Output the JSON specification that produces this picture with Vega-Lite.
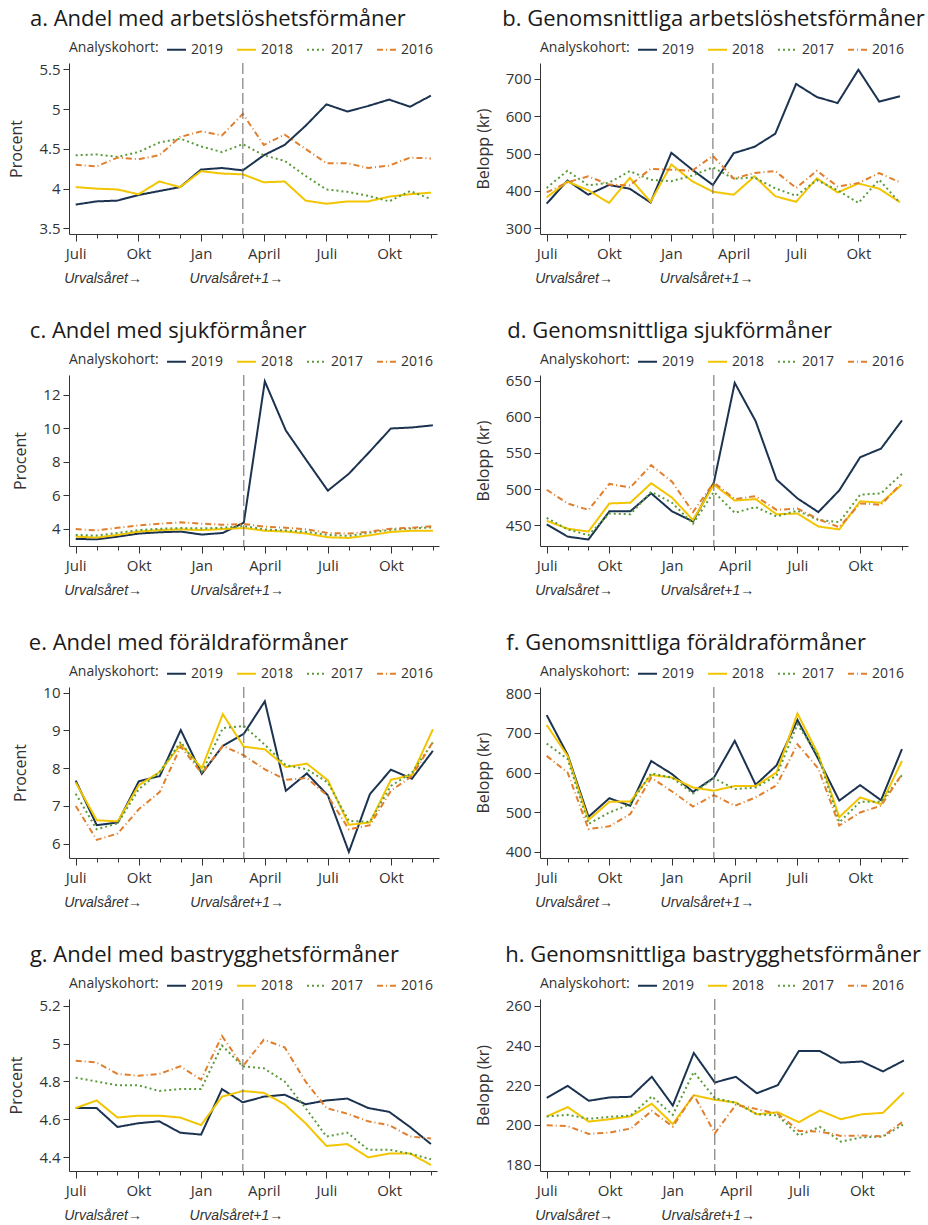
{
"$schema": "https://vega.github.io/schema/vega-lite/v6.json",
"background": "white",
"padding": {"left": 8, "top": 8, "right": 0, "bottom": 0},
"columns": 2,
"spacing": {"row": 35, "column": 36},
"align": "each",
"resolve": {"scale": {"color": "independent", "strokeDash": "independent"}, "legend": {"color": "independent", "strokeDash": "independent"}},
"config": {
 "font": "Open Sans",
 "view": {"stroke": null},
 "title": {"fontSize": 22, "fontWeight": "normal", "anchor": "start", "frame": "bounds", "color": "#1a1a1a", "offset": 8},
 "axis": {"grid": false, "domainColor": "#333", "tickColor": "#333", "labelColor": "#333", "titleColor": "#333", "titleFontWeight": "normal", "labelFontSize": 15, "titleFontSize": 16},
 "axisY": {"tickSize": 6, "labelPadding": 3, "titlePadding": 14},
 "legend": {"orient": "top", "direction": "horizontal", "titleOrient": "left", "titleFontSize": 14, "titleFontWeight": "normal", "titleColor": "#333", "labelColor": "#333", "labelFontSize": 14, "symbolType": "stroke", "symbolStrokeWidth": 2, "symbolSize": 361, "columnPadding": 9, "labelOffset": 4, "titlePadding": 7, "offset": 6}
},
"datasets": {"d": [
{"p":"a","k":"2019","m":0,"v":3.80},{"p":"a","k":"2019","m":1,"v":3.84},{"p":"a","k":"2019","m":2,"v":3.85},{"p":"a","k":"2019","m":3,"v":3.92},{"p":"a","k":"2019","m":4,"v":3.97},{"p":"a","k":"2019","m":5,"v":4.02},{"p":"a","k":"2019","m":6,"v":4.24},{"p":"a","k":"2019","m":7,"v":4.26},{"p":"a","k":"2019","m":8,"v":4.23},{"p":"a","k":"2019","m":9,"v":4.42},{"p":"a","k":"2019","m":10,"v":4.55},{"p":"a","k":"2019","m":11,"v":4.79},{"p":"a","k":"2019","m":12,"v":5.06},{"p":"a","k":"2019","m":13,"v":4.97},{"p":"a","k":"2019","m":14,"v":5.04},{"p":"a","k":"2019","m":15,"v":5.12},{"p":"a","k":"2019","m":16,"v":5.03},{"p":"a","k":"2019","m":17,"v":5.17},
{"p":"a","k":"2018","m":0,"v":4.02},{"p":"a","k":"2018","m":1,"v":4.00},{"p":"a","k":"2018","m":2,"v":3.99},{"p":"a","k":"2018","m":3,"v":3.93},{"p":"a","k":"2018","m":4,"v":4.09},{"p":"a","k":"2018","m":5,"v":4.02},{"p":"a","k":"2018","m":6,"v":4.22},{"p":"a","k":"2018","m":7,"v":4.19},{"p":"a","k":"2018","m":8,"v":4.18},{"p":"a","k":"2018","m":9,"v":4.08},{"p":"a","k":"2018","m":10,"v":4.09},{"p":"a","k":"2018","m":11,"v":3.85},{"p":"a","k":"2018","m":12,"v":3.81},{"p":"a","k":"2018","m":13,"v":3.84},{"p":"a","k":"2018","m":14,"v":3.84},{"p":"a","k":"2018","m":15,"v":3.90},{"p":"a","k":"2018","m":16,"v":3.93},{"p":"a","k":"2018","m":17,"v":3.95},
{"p":"a","k":"2017","m":0,"v":4.42},{"p":"a","k":"2017","m":1,"v":4.43},{"p":"a","k":"2017","m":2,"v":4.40},{"p":"a","k":"2017","m":3,"v":4.46},{"p":"a","k":"2017","m":4,"v":4.58},{"p":"a","k":"2017","m":5,"v":4.63},{"p":"a","k":"2017","m":6,"v":4.53},{"p":"a","k":"2017","m":7,"v":4.46},{"p":"a","k":"2017","m":8,"v":4.56},{"p":"a","k":"2017","m":9,"v":4.42},{"p":"a","k":"2017","m":10,"v":4.35},{"p":"a","k":"2017","m":11,"v":4.16},{"p":"a","k":"2017","m":12,"v":3.99},{"p":"a","k":"2017","m":13,"v":3.96},{"p":"a","k":"2017","m":14,"v":3.91},{"p":"a","k":"2017","m":15,"v":3.84},{"p":"a","k":"2017","m":16,"v":3.97},{"p":"a","k":"2017","m":17,"v":3.87},
{"p":"a","k":"2016","m":0,"v":4.30},{"p":"a","k":"2016","m":1,"v":4.28},{"p":"a","k":"2016","m":2,"v":4.39},{"p":"a","k":"2016","m":3,"v":4.37},{"p":"a","k":"2016","m":4,"v":4.42},{"p":"a","k":"2016","m":5,"v":4.65},{"p":"a","k":"2016","m":6,"v":4.72},{"p":"a","k":"2016","m":7,"v":4.67},{"p":"a","k":"2016","m":8,"v":4.94},{"p":"a","k":"2016","m":9,"v":4.55},{"p":"a","k":"2016","m":10,"v":4.68},{"p":"a","k":"2016","m":11,"v":4.50},{"p":"a","k":"2016","m":12,"v":4.32},{"p":"a","k":"2016","m":13,"v":4.32},{"p":"a","k":"2016","m":14,"v":4.26},{"p":"a","k":"2016","m":15,"v":4.29},{"p":"a","k":"2016","m":16,"v":4.39},{"p":"a","k":"2016","m":17,"v":4.38},
{"p":"b","k":"2019","m":0,"v":366},{"p":"b","k":"2019","m":1,"v":428},{"p":"b","k":"2019","m":2,"v":390},{"p":"b","k":"2019","m":3,"v":416},{"p":"b","k":"2019","m":4,"v":406},{"p":"b","k":"2019","m":5,"v":369},{"p":"b","k":"2019","m":6,"v":502},{"p":"b","k":"2019","m":7,"v":457},{"p":"b","k":"2019","m":8,"v":416},{"p":"b","k":"2019","m":9,"v":501},{"p":"b","k":"2019","m":10,"v":518},{"p":"b","k":"2019","m":11,"v":553},{"p":"b","k":"2019","m":12,"v":686},{"p":"b","k":"2019","m":13,"v":651},{"p":"b","k":"2019","m":14,"v":635},{"p":"b","k":"2019","m":15,"v":724},{"p":"b","k":"2019","m":16,"v":639},{"p":"b","k":"2019","m":17,"v":653},
{"p":"b","k":"2018","m":0,"v":383},{"p":"b","k":"2018","m":1,"v":425},{"p":"b","k":"2018","m":2,"v":402},{"p":"b","k":"2018","m":3,"v":368},{"p":"b","k":"2018","m":4,"v":435},{"p":"b","k":"2018","m":5,"v":371},{"p":"b","k":"2018","m":6,"v":471},{"p":"b","k":"2018","m":7,"v":426},{"p":"b","k":"2018","m":8,"v":398},{"p":"b","k":"2018","m":9,"v":390},{"p":"b","k":"2018","m":10,"v":439},{"p":"b","k":"2018","m":11,"v":386},{"p":"b","k":"2018","m":12,"v":371},{"p":"b","k":"2018","m":13,"v":434},{"p":"b","k":"2018","m":14,"v":396},{"p":"b","k":"2018","m":15,"v":420},{"p":"b","k":"2018","m":16,"v":406},{"p":"b","k":"2018","m":17,"v":370},
{"p":"b","k":"2017","m":0,"v":408},{"p":"b","k":"2017","m":1,"v":454},{"p":"b","k":"2017","m":2,"v":415},{"p":"b","k":"2017","m":3,"v":422},{"p":"b","k":"2017","m":4,"v":453},{"p":"b","k":"2017","m":5,"v":430},{"p":"b","k":"2017","m":6,"v":426},{"p":"b","k":"2017","m":7,"v":441},{"p":"b","k":"2017","m":8,"v":463},{"p":"b","k":"2017","m":9,"v":433},{"p":"b","k":"2017","m":10,"v":436},{"p":"b","k":"2017","m":11,"v":407},{"p":"b","k":"2017","m":12,"v":387},{"p":"b","k":"2017","m":13,"v":429},{"p":"b","k":"2017","m":14,"v":402},{"p":"b","k":"2017","m":15,"v":368},{"p":"b","k":"2017","m":16,"v":430},{"p":"b","k":"2017","m":17,"v":368},
{"p":"b","k":"2016","m":0,"v":396},{"p":"b","k":"2016","m":1,"v":423},{"p":"b","k":"2016","m":2,"v":439},{"p":"b","k":"2016","m":3,"v":417},{"p":"b","k":"2016","m":4,"v":415},{"p":"b","k":"2016","m":5,"v":459},{"p":"b","k":"2016","m":6,"v":457},{"p":"b","k":"2016","m":7,"v":454},{"p":"b","k":"2016","m":8,"v":494},{"p":"b","k":"2016","m":9,"v":433},{"p":"b","k":"2016","m":10,"v":448},{"p":"b","k":"2016","m":11,"v":453},{"p":"b","k":"2016","m":12,"v":408},{"p":"b","k":"2016","m":13,"v":454},{"p":"b","k":"2016","m":14,"v":412},{"p":"b","k":"2016","m":15,"v":421},{"p":"b","k":"2016","m":16,"v":448},{"p":"b","k":"2016","m":17,"v":423},
{"p":"c","k":"2019","m":0,"v":3.39},{"p":"c","k":"2019","m":1,"v":3.37},{"p":"c","k":"2019","m":2,"v":3.53},{"p":"c","k":"2019","m":3,"v":3.71},{"p":"c","k":"2019","m":4,"v":3.79},{"p":"c","k":"2019","m":5,"v":3.83},{"p":"c","k":"2019","m":6,"v":3.65},{"p":"c","k":"2019","m":7,"v":3.75},{"p":"c","k":"2019","m":8,"v":4.36},{"p":"c","k":"2019","m":9,"v":12.79},{"p":"c","k":"2019","m":10,"v":9.86},{"p":"c","k":"2019","m":11,"v":8.05},{"p":"c","k":"2019","m":12,"v":6.27},{"p":"c","k":"2019","m":13,"v":7.28},{"p":"c","k":"2019","m":14,"v":8.61},{"p":"c","k":"2019","m":15,"v":9.98},{"p":"c","k":"2019","m":16,"v":10.04},{"p":"c","k":"2019","m":17,"v":10.17},
{"p":"c","k":"2018","m":0,"v":3.53},{"p":"c","k":"2018","m":1,"v":3.47},{"p":"c","k":"2018","m":2,"v":3.63},{"p":"c","k":"2018","m":3,"v":3.83},{"p":"c","k":"2018","m":4,"v":3.92},{"p":"c","k":"2018","m":5,"v":3.96},{"p":"c","k":"2018","m":6,"v":3.92},{"p":"c","k":"2018","m":7,"v":3.98},{"p":"c","k":"2018","m":8,"v":4.04},{"p":"c","k":"2018","m":9,"v":3.88},{"p":"c","k":"2018","m":10,"v":3.83},{"p":"c","k":"2018","m":11,"v":3.71},{"p":"c","k":"2018","m":12,"v":3.49},{"p":"c","k":"2018","m":13,"v":3.45},{"p":"c","k":"2018","m":14,"v":3.61},{"p":"c","k":"2018","m":15,"v":3.81},{"p":"c","k":"2018","m":16,"v":3.88},{"p":"c","k":"2018","m":17,"v":3.88},
{"p":"c","k":"2017","m":0,"v":3.63},{"p":"c","k":"2017","m":1,"v":3.59},{"p":"c","k":"2017","m":2,"v":3.75},{"p":"c","k":"2017","m":3,"v":3.92},{"p":"c","k":"2017","m":4,"v":4.00},{"p":"c","k":"2017","m":5,"v":4.04},{"p":"c","k":"2017","m":6,"v":4.02},{"p":"c","k":"2017","m":7,"v":4.06},{"p":"c","k":"2017","m":8,"v":4.16},{"p":"c","k":"2017","m":9,"v":3.96},{"p":"c","k":"2017","m":10,"v":3.90},{"p":"c","k":"2017","m":11,"v":3.81},{"p":"c","k":"2017","m":12,"v":3.63},{"p":"c","k":"2017","m":13,"v":3.57},{"p":"c","k":"2017","m":14,"v":3.77},{"p":"c","k":"2017","m":15,"v":3.94},{"p":"c","k":"2017","m":16,"v":4.02},{"p":"c","k":"2017","m":17,"v":4.08},
{"p":"c","k":"2016","m":0,"v":3.98},{"p":"c","k":"2016","m":1,"v":3.90},{"p":"c","k":"2016","m":2,"v":4.06},{"p":"c","k":"2016","m":3,"v":4.20},{"p":"c","k":"2016","m":4,"v":4.30},{"p":"c","k":"2016","m":5,"v":4.38},{"p":"c","k":"2016","m":6,"v":4.30},{"p":"c","k":"2016","m":7,"v":4.24},{"p":"c","k":"2016","m":8,"v":4.28},{"p":"c","k":"2016","m":9,"v":4.12},{"p":"c","k":"2016","m":10,"v":4.06},{"p":"c","k":"2016","m":11,"v":3.96},{"p":"c","k":"2016","m":12,"v":3.75},{"p":"c","k":"2016","m":13,"v":3.71},{"p":"c","k":"2016","m":14,"v":3.83},{"p":"c","k":"2016","m":15,"v":4.00},{"p":"c","k":"2016","m":16,"v":4.06},{"p":"c","k":"2016","m":17,"v":4.16},
{"p":"d","k":"2019","m":0,"v":451},{"p":"d","k":"2019","m":1,"v":434},{"p":"d","k":"2019","m":2,"v":430},{"p":"d","k":"2019","m":3,"v":469},{"p":"d","k":"2019","m":4,"v":469},{"p":"d","k":"2019","m":5,"v":494},{"p":"d","k":"2019","m":6,"v":469},{"p":"d","k":"2019","m":7,"v":455},{"p":"d","k":"2019","m":8,"v":509},{"p":"d","k":"2019","m":9,"v":647},{"p":"d","k":"2019","m":10,"v":594},{"p":"d","k":"2019","m":11,"v":513},{"p":"d","k":"2019","m":12,"v":487},{"p":"d","k":"2019","m":13,"v":468},{"p":"d","k":"2019","m":14,"v":498},{"p":"d","k":"2019","m":15,"v":544},{"p":"d","k":"2019","m":16,"v":556},{"p":"d","k":"2019","m":17,"v":595},
{"p":"d","k":"2018","m":0,"v":456},{"p":"d","k":"2018","m":1,"v":445},{"p":"d","k":"2018","m":2,"v":441},{"p":"d","k":"2018","m":3,"v":480},{"p":"d","k":"2018","m":4,"v":481},{"p":"d","k":"2018","m":5,"v":508},{"p":"d","k":"2018","m":6,"v":488},{"p":"d","k":"2018","m":7,"v":457},{"p":"d","k":"2018","m":8,"v":506},{"p":"d","k":"2018","m":9,"v":484},{"p":"d","k":"2018","m":10,"v":486},{"p":"d","k":"2018","m":11,"v":465},{"p":"d","k":"2018","m":12,"v":466},{"p":"d","k":"2018","m":13,"v":448},{"p":"d","k":"2018","m":14,"v":444},{"p":"d","k":"2018","m":15,"v":483},{"p":"d","k":"2018","m":16,"v":481},{"p":"d","k":"2018","m":17,"v":506},
{"p":"d","k":"2017","m":0,"v":460},{"p":"d","k":"2017","m":1,"v":444},{"p":"d","k":"2017","m":2,"v":436},{"p":"d","k":"2017","m":3,"v":466},{"p":"d","k":"2017","m":4,"v":465},{"p":"d","k":"2017","m":5,"v":496},{"p":"d","k":"2017","m":6,"v":481},{"p":"d","k":"2017","m":7,"v":452},{"p":"d","k":"2017","m":8,"v":496},{"p":"d","k":"2017","m":9,"v":467},{"p":"d","k":"2017","m":10,"v":475},{"p":"d","k":"2017","m":11,"v":462},{"p":"d","k":"2017","m":12,"v":470},{"p":"d","k":"2017","m":13,"v":457},{"p":"d","k":"2017","m":14,"v":454},{"p":"d","k":"2017","m":15,"v":492},{"p":"d","k":"2017","m":16,"v":494},{"p":"d","k":"2017","m":17,"v":521},
{"p":"d","k":"2016","m":0,"v":499},{"p":"d","k":"2016","m":1,"v":480},{"p":"d","k":"2016","m":2,"v":471},{"p":"d","k":"2016","m":3,"v":507},{"p":"d","k":"2016","m":4,"v":502},{"p":"d","k":"2016","m":5,"v":533},{"p":"d","k":"2016","m":6,"v":510},{"p":"d","k":"2016","m":7,"v":468},{"p":"d","k":"2016","m":8,"v":509},{"p":"d","k":"2016","m":9,"v":486},{"p":"d","k":"2016","m":10,"v":490},{"p":"d","k":"2016","m":11,"v":471},{"p":"d","k":"2016","m":12,"v":473},{"p":"d","k":"2016","m":13,"v":458},{"p":"d","k":"2016","m":14,"v":447},{"p":"d","k":"2016","m":15,"v":480},{"p":"d","k":"2016","m":16,"v":478},{"p":"d","k":"2016","m":17,"v":509},
{"p":"e","k":"2019","m":0,"v":7.67},{"p":"e","k":"2019","m":1,"v":6.49},{"p":"e","k":"2019","m":2,"v":6.56},{"p":"e","k":"2019","m":3,"v":7.65},{"p":"e","k":"2019","m":4,"v":7.79},{"p":"e","k":"2019","m":5,"v":9.01},{"p":"e","k":"2019","m":6,"v":7.85},{"p":"e","k":"2019","m":7,"v":8.59},{"p":"e","k":"2019","m":8,"v":8.91},{"p":"e","k":"2019","m":9,"v":9.77},{"p":"e","k":"2019","m":10,"v":7.40},{"p":"e","k":"2019","m":11,"v":7.86},{"p":"e","k":"2019","m":12,"v":7.28},{"p":"e","k":"2019","m":13,"v":5.78},{"p":"e","k":"2019","m":14,"v":7.31},{"p":"e","k":"2019","m":15,"v":7.96},{"p":"e","k":"2019","m":16,"v":7.72},{"p":"e","k":"2019","m":17,"v":8.46},
{"p":"e","k":"2018","m":0,"v":7.62},{"p":"e","k":"2018","m":1,"v":6.62},{"p":"e","k":"2018","m":2,"v":6.59},{"p":"e","k":"2018","m":3,"v":7.55},{"p":"e","k":"2018","m":4,"v":7.90},{"p":"e","k":"2018","m":5,"v":8.63},{"p":"e","k":"2018","m":6,"v":8.00},{"p":"e","k":"2018","m":7,"v":9.43},{"p":"e","k":"2018","m":8,"v":8.57},{"p":"e","k":"2018","m":9,"v":8.50},{"p":"e","k":"2018","m":10,"v":8.03},{"p":"e","k":"2018","m":11,"v":8.12},{"p":"e","k":"2018","m":12,"v":7.68},{"p":"e","k":"2018","m":13,"v":6.50},{"p":"e","k":"2018","m":14,"v":6.56},{"p":"e","k":"2018","m":15,"v":7.69},{"p":"e","k":"2018","m":16,"v":7.82},{"p":"e","k":"2018","m":17,"v":9.03},
{"p":"e","k":"2017","m":0,"v":7.32},{"p":"e","k":"2017","m":1,"v":6.38},{"p":"e","k":"2017","m":2,"v":6.54},{"p":"e","k":"2017","m":3,"v":7.44},{"p":"e","k":"2017","m":4,"v":7.90},{"p":"e","k":"2017","m":5,"v":8.70},{"p":"e","k":"2017","m":6,"v":7.88},{"p":"e","k":"2017","m":7,"v":9.06},{"p":"e","k":"2017","m":8,"v":9.12},{"p":"e","k":"2017","m":9,"v":8.62},{"p":"e","k":"2017","m":10,"v":8.08},{"p":"e","k":"2017","m":11,"v":7.97},{"p":"e","k":"2017","m":12,"v":7.62},{"p":"e","k":"2017","m":13,"v":6.60},{"p":"e","k":"2017","m":14,"v":6.58},{"p":"e","k":"2017","m":15,"v":7.53},{"p":"e","k":"2017","m":16,"v":7.88},{"p":"e","k":"2017","m":17,"v":8.68},
{"p":"e","k":"2016","m":0,"v":7.00},{"p":"e","k":"2016","m":1,"v":6.10},{"p":"e","k":"2016","m":2,"v":6.27},{"p":"e","k":"2016","m":3,"v":6.91},{"p":"e","k":"2016","m":4,"v":7.37},{"p":"e","k":"2016","m":5,"v":8.57},{"p":"e","k":"2016","m":6,"v":7.86},{"p":"e","k":"2016","m":7,"v":8.59},{"p":"e","k":"2016","m":8,"v":8.34},{"p":"e","k":"2016","m":9,"v":7.97},{"p":"e","k":"2016","m":10,"v":7.69},{"p":"e","k":"2016","m":11,"v":7.74},{"p":"e","k":"2016","m":12,"v":7.26},{"p":"e","k":"2016","m":13,"v":6.38},{"p":"e","k":"2016","m":14,"v":6.49},{"p":"e","k":"2016","m":15,"v":7.40},{"p":"e","k":"2016","m":16,"v":7.79},{"p":"e","k":"2016","m":17,"v":8.70},
{"p":"f","k":"2019","m":0,"v":745},{"p":"f","k":"2019","m":1,"v":645},{"p":"f","k":"2019","m":2,"v":488},{"p":"f","k":"2019","m":3,"v":535},{"p":"f","k":"2019","m":4,"v":516},{"p":"f","k":"2019","m":5,"v":629},{"p":"f","k":"2019","m":6,"v":596},{"p":"f","k":"2019","m":7,"v":551},{"p":"f","k":"2019","m":8,"v":587},{"p":"f","k":"2019","m":9,"v":680},{"p":"f","k":"2019","m":10,"v":569},{"p":"f","k":"2019","m":11,"v":618},{"p":"f","k":"2019","m":12,"v":733},{"p":"f","k":"2019","m":13,"v":634},{"p":"f","k":"2019","m":14,"v":529},{"p":"f","k":"2019","m":15,"v":568},{"p":"f","k":"2019","m":16,"v":530},{"p":"f","k":"2019","m":17,"v":659},
{"p":"f","k":"2018","m":0,"v":720},{"p":"f","k":"2018","m":1,"v":642},{"p":"f","k":"2018","m":2,"v":480},{"p":"f","k":"2018","m":3,"v":526},{"p":"f","k":"2018","m":4,"v":527},{"p":"f","k":"2018","m":5,"v":594},{"p":"f","k":"2018","m":6,"v":587},{"p":"f","k":"2018","m":7,"v":562},{"p":"f","k":"2018","m":8,"v":554},{"p":"f","k":"2018","m":9,"v":566},{"p":"f","k":"2018","m":10,"v":566},{"p":"f","k":"2018","m":11,"v":600},{"p":"f","k":"2018","m":12,"v":749},{"p":"f","k":"2018","m":13,"v":645},{"p":"f","k":"2018","m":14,"v":487},{"p":"f","k":"2018","m":15,"v":537},{"p":"f","k":"2018","m":16,"v":520},{"p":"f","k":"2018","m":17,"v":629},
{"p":"f","k":"2017","m":0,"v":673},{"p":"f","k":"2017","m":1,"v":634},{"p":"f","k":"2017","m":2,"v":470},{"p":"f","k":"2017","m":3,"v":499},{"p":"f","k":"2017","m":4,"v":520},{"p":"f","k":"2017","m":5,"v":598},{"p":"f","k":"2017","m":6,"v":587},{"p":"f","k":"2017","m":7,"v":547},{"p":"f","k":"2017","m":8,"v":586},{"p":"f","k":"2017","m":9,"v":558},{"p":"f","k":"2017","m":10,"v":562},{"p":"f","k":"2017","m":11,"v":592},{"p":"f","k":"2017","m":12,"v":722},{"p":"f","k":"2017","m":13,"v":642},{"p":"f","k":"2017","m":14,"v":474},{"p":"f","k":"2017","m":15,"v":526},{"p":"f","k":"2017","m":16,"v":526},{"p":"f","k":"2017","m":17,"v":593},
{"p":"f","k":"2016","m":0,"v":642},{"p":"f","k":"2016","m":1,"v":600},{"p":"f","k":"2016","m":2,"v":457},{"p":"f","k":"2016","m":3,"v":464},{"p":"f","k":"2016","m":4,"v":495},{"p":"f","k":"2016","m":5,"v":587},{"p":"f","k":"2016","m":6,"v":552},{"p":"f","k":"2016","m":7,"v":514},{"p":"f","k":"2016","m":8,"v":543},{"p":"f","k":"2016","m":9,"v":516},{"p":"f","k":"2016","m":10,"v":537},{"p":"f","k":"2016","m":11,"v":568},{"p":"f","k":"2016","m":12,"v":671},{"p":"f","k":"2016","m":13,"v":610},{"p":"f","k":"2016","m":14,"v":466},{"p":"f","k":"2016","m":15,"v":499},{"p":"f","k":"2016","m":16,"v":516},{"p":"f","k":"2016","m":17,"v":596},
{"p":"g","k":"2019","m":0,"v":4.66},{"p":"g","k":"2019","m":1,"v":4.66},{"p":"g","k":"2019","m":2,"v":4.56},{"p":"g","k":"2019","m":3,"v":4.58},{"p":"g","k":"2019","m":4,"v":4.59},{"p":"g","k":"2019","m":5,"v":4.53},{"p":"g","k":"2019","m":6,"v":4.52},{"p":"g","k":"2019","m":7,"v":4.76},{"p":"g","k":"2019","m":8,"v":4.69},{"p":"g","k":"2019","m":9,"v":4.72},{"p":"g","k":"2019","m":10,"v":4.73},{"p":"g","k":"2019","m":11,"v":4.68},{"p":"g","k":"2019","m":12,"v":4.70},{"p":"g","k":"2019","m":13,"v":4.71},{"p":"g","k":"2019","m":14,"v":4.66},{"p":"g","k":"2019","m":15,"v":4.64},{"p":"g","k":"2019","m":16,"v":4.56},{"p":"g","k":"2019","m":17,"v":4.47},
{"p":"g","k":"2018","m":0,"v":4.66},{"p":"g","k":"2018","m":1,"v":4.70},{"p":"g","k":"2018","m":2,"v":4.61},{"p":"g","k":"2018","m":3,"v":4.62},{"p":"g","k":"2018","m":4,"v":4.62},{"p":"g","k":"2018","m":5,"v":4.61},{"p":"g","k":"2018","m":6,"v":4.57},{"p":"g","k":"2018","m":7,"v":4.72},{"p":"g","k":"2018","m":8,"v":4.75},{"p":"g","k":"2018","m":9,"v":4.74},{"p":"g","k":"2018","m":10,"v":4.68},{"p":"g","k":"2018","m":11,"v":4.58},{"p":"g","k":"2018","m":12,"v":4.46},{"p":"g","k":"2018","m":13,"v":4.47},{"p":"g","k":"2018","m":14,"v":4.40},{"p":"g","k":"2018","m":15,"v":4.42},{"p":"g","k":"2018","m":16,"v":4.42},{"p":"g","k":"2018","m":17,"v":4.36},
{"p":"g","k":"2017","m":0,"v":4.82},{"p":"g","k":"2017","m":1,"v":4.80},{"p":"g","k":"2017","m":2,"v":4.78},{"p":"g","k":"2017","m":3,"v":4.78},{"p":"g","k":"2017","m":4,"v":4.75},{"p":"g","k":"2017","m":5,"v":4.76},{"p":"g","k":"2017","m":6,"v":4.76},{"p":"g","k":"2017","m":7,"v":4.99},{"p":"g","k":"2017","m":8,"v":4.88},{"p":"g","k":"2017","m":9,"v":4.87},{"p":"g","k":"2017","m":10,"v":4.80},{"p":"g","k":"2017","m":11,"v":4.66},{"p":"g","k":"2017","m":12,"v":4.51},{"p":"g","k":"2017","m":13,"v":4.53},{"p":"g","k":"2017","m":14,"v":4.44},{"p":"g","k":"2017","m":15,"v":4.44},{"p":"g","k":"2017","m":16,"v":4.42},{"p":"g","k":"2017","m":17,"v":4.39},
{"p":"g","k":"2016","m":0,"v":4.91},{"p":"g","k":"2016","m":1,"v":4.90},{"p":"g","k":"2016","m":2,"v":4.84},{"p":"g","k":"2016","m":3,"v":4.83},{"p":"g","k":"2016","m":4,"v":4.84},{"p":"g","k":"2016","m":5,"v":4.88},{"p":"g","k":"2016","m":6,"v":4.81},{"p":"g","k":"2016","m":7,"v":5.04},{"p":"g","k":"2016","m":8,"v":4.88},{"p":"g","k":"2016","m":9,"v":5.02},{"p":"g","k":"2016","m":10,"v":4.98},{"p":"g","k":"2016","m":11,"v":4.80},{"p":"g","k":"2016","m":12,"v":4.66},{"p":"g","k":"2016","m":13,"v":4.63},{"p":"g","k":"2016","m":14,"v":4.59},{"p":"g","k":"2016","m":15,"v":4.57},{"p":"g","k":"2016","m":16,"v":4.51},{"p":"g","k":"2016","m":17,"v":4.50},
{"p":"h","k":"2019","m":0,"v":213.7},{"p":"h","k":"2019","m":1,"v":219.7},{"p":"h","k":"2019","m":2,"v":212.2},{"p":"h","k":"2019","m":3,"v":213.9},{"p":"h","k":"2019","m":4,"v":214.2},{"p":"h","k":"2019","m":5,"v":224.3},{"p":"h","k":"2019","m":6,"v":209.8},{"p":"h","k":"2019","m":7,"v":236.3},{"p":"h","k":"2019","m":8,"v":221.4},{"p":"h","k":"2019","m":9,"v":224.3},{"p":"h","k":"2019","m":10,"v":216.0},{"p":"h","k":"2019","m":11,"v":220.1},{"p":"h","k":"2019","m":12,"v":237.3},{"p":"h","k":"2019","m":13,"v":237.3},{"p":"h","k":"2019","m":14,"v":231.4},{"p":"h","k":"2019","m":15,"v":232.0},{"p":"h","k":"2019","m":16,"v":227.0},{"p":"h","k":"2019","m":17,"v":232.5},
{"p":"h","k":"2018","m":0,"v":204.3},{"p":"h","k":"2018","m":1,"v":209.0},{"p":"h","k":"2018","m":2,"v":201.7},{"p":"h","k":"2018","m":3,"v":202.9},{"p":"h","k":"2018","m":4,"v":204.4},{"p":"h","k":"2018","m":5,"v":210.7},{"p":"h","k":"2018","m":6,"v":200.5},{"p":"h","k":"2018","m":7,"v":215.0},{"p":"h","k":"2018","m":8,"v":212.7},{"p":"h","k":"2018","m":9,"v":211.3},{"p":"h","k":"2018","m":10,"v":205.4},{"p":"h","k":"2018","m":11,"v":206.4},{"p":"h","k":"2018","m":12,"v":201.4},{"p":"h","k":"2018","m":13,"v":207.3},{"p":"h","k":"2018","m":14,"v":202.9},{"p":"h","k":"2018","m":15,"v":205.4},{"p":"h","k":"2018","m":16,"v":206.1},{"p":"h","k":"2018","m":17,"v":216.4},
{"p":"h","k":"2017","m":0,"v":204.3},{"p":"h","k":"2017","m":1,"v":205.1},{"p":"h","k":"2017","m":2,"v":203.1},{"p":"h","k":"2017","m":3,"v":204.1},{"p":"h","k":"2017","m":4,"v":204.8},{"p":"h","k":"2017","m":5,"v":214.4},{"p":"h","k":"2017","m":6,"v":205.1},{"p":"h","k":"2017","m":7,"v":226.7},{"p":"h","k":"2017","m":8,"v":213.5},{"p":"h","k":"2017","m":9,"v":211.2},{"p":"h","k":"2017","m":10,"v":205.4},{"p":"h","k":"2017","m":11,"v":204.8},{"p":"h","k":"2017","m":12,"v":194.7},{"p":"h","k":"2017","m":13,"v":199.0},{"p":"h","k":"2017","m":14,"v":191.6},{"p":"h","k":"2017","m":15,"v":193.8},{"p":"h","k":"2017","m":16,"v":194.1},{"p":"h","k":"2017","m":17,"v":200.5},
{"p":"h","k":"2016","m":0,"v":199.9},{"p":"h","k":"2016","m":1,"v":199.4},{"p":"h","k":"2016","m":2,"v":195.5},{"p":"h","k":"2016","m":3,"v":196.2},{"p":"h","k":"2016","m":4,"v":198.2},{"p":"h","k":"2016","m":5,"v":207.1},{"p":"h","k":"2016","m":6,"v":199.2},{"p":"h","k":"2016","m":7,"v":215.2},{"p":"h","k":"2016","m":8,"v":195.8},{"p":"h","k":"2016","m":9,"v":210.1},{"p":"h","k":"2016","m":10,"v":208.0},{"p":"h","k":"2016","m":11,"v":205.6},{"p":"h","k":"2016","m":12,"v":197.0},{"p":"h","k":"2016","m":13,"v":196.7},{"p":"h","k":"2016","m":14,"v":194.5},{"p":"h","k":"2016","m":15,"v":194.7},{"p":"h","k":"2016","m":16,"v":194.3},{"p":"h","k":"2016","m":17,"v":202.1}
]},
"concat": [
{"title": {"text": "a. Andel med arbetslöshetsförmåner", "dx": 21}, "width": 368, "height": 171,
 "layer": [
  {"data": {"name": "d"}, "transform": [{"filter": "datum.p === 'a'"}], "mark": {"type": "line", "strokeWidth": 2},
   "encoding": {
    "x": {"field": "m", "type": "quantitative", "scale": {"domain": [-0.32, 17.29], "nice": false, "zero": false}, "axis": {"orient": "bottom", "title": null, "values": [0,1,2,3,4,5,6,7,8,9,10,11,12,13,14,15,16,17], "labelExpr": "datum.value % 3 === 0 ? ['Juli','Okt','Jan','April','Juli','Okt'][datum.value / 3] : ''", "tickSize": {"condition": {"test": "datum.value % 3 === 0", "value": 7}, "value": 4}, "labelPadding": 5, "labelOverlap": false, "labelFlush": false}},
    "y": {"field": "v", "type": "quantitative", "scale": {"domain": [3.43, 5.58], "nice": false, "zero": false}, "axis": {"title": "Procent", "values": [3.5,4,4.5,5,5.5], "format": ".4~g"}},
    "color": {"field": "k", "type": "nominal", "scale": {"domain": ["2019","2018","2017","2016"], "range": ["#1b3350","#f2c500","#5b9b3c","#e07f2e"]}, "legend": {"title": "Analyskohort:"}},
    "strokeDash": {"field": "k", "type": "nominal", "scale": {"domain": ["2019","2018","2017","2016"], "range": [[1,0],[1,0],[2,3],[6,3,1,3]]}, "legend": {"title": "Analyskohort:"}}
   }},
  {"data": {"values": [{"m": 8}]}, "mark": {"type": "rule", "color": "#666", "strokeDash": [11,4], "strokeWidth": 1},
   "encoding": {"x": {"field": "m", "type": "quantitative", "scale": {"domain": [-0.32, 17.29], "nice": false, "zero": false}, "axis": {"orient": "bottom", "title": null, "values": [0,6], "labelExpr": "datum.value === 0 ? 'Urvalsåret→' : 'Urvalsåret+1→'", "domain": false, "ticks": false, "labelFont": "Liberation Sans", "labelFontStyle": "italic", "labelFontSize": 14, "labelAlign": "left", "labelBaseline": "top", "labelOffset": -12, "offset": 37, "labelPadding": 0, "labelFlush": false, "labelOverlap": false}}}}
 ],
 "resolve": {"scale": {"x": "independent"}}
},
{"title": {"text": "b. Genomsnittliga arbetslöshetsförmåner", "dx": 27}, "width": 366, "height": 171,
 "layer": [
  {"data": {"name": "d"}, "transform": [{"filter": "datum.p === 'b'"}], "mark": {"type": "line", "strokeWidth": 2},
   "encoding": {
    "x": {"field": "m", "type": "quantitative", "scale": {"domain": [-0.32, 17.29], "nice": false, "zero": false}, "axis": {"orient": "bottom", "title": null, "values": [0,1,2,3,4,5,6,7,8,9,10,11,12,13,14,15,16,17], "labelExpr": "datum.value % 3 === 0 ? ['Juli','Okt','Jan','April','Juli','Okt'][datum.value / 3] : ''", "tickSize": {"condition": {"test": "datum.value % 3 === 0", "value": 7}, "value": 4}, "labelPadding": 5, "labelOverlap": false, "labelFlush": false}},
    "y": {"field": "v", "type": "quantitative", "scale": {"domain": [285, 742], "nice": false, "zero": false}, "axis": {"title": "Belopp (kr)", "values": [300,400,500,600,700], "format": ".4~g"}},
    "color": {"field": "k", "type": "nominal", "scale": {"domain": ["2019","2018","2017","2016"], "range": ["#1b3350","#f2c500","#5b9b3c","#e07f2e"]}, "legend": {"title": "Analyskohort:"}},
    "strokeDash": {"field": "k", "type": "nominal", "scale": {"domain": ["2019","2018","2017","2016"], "range": [[1,0],[1,0],[2,3],[6,3,1,3]]}, "legend": {"title": "Analyskohort:"}}
   }},
  {"data": {"values": [{"m": 8}]}, "mark": {"type": "rule", "color": "#666", "strokeDash": [11,4], "strokeWidth": 1},
   "encoding": {"x": {"field": "m", "type": "quantitative", "scale": {"domain": [-0.32, 17.29], "nice": false, "zero": false}, "axis": {"orient": "bottom", "title": null, "values": [0,6], "labelExpr": "datum.value === 0 ? 'Urvalsåret→' : 'Urvalsåret+1→'", "domain": false, "ticks": false, "labelFont": "Liberation Sans", "labelFontStyle": "italic", "labelFontSize": 14, "labelAlign": "left", "labelBaseline": "top", "labelOffset": -12, "offset": 37, "labelPadding": 0, "labelFlush": false, "labelOverlap": false}}}}
 ],
 "resolve": {"scale": {"x": "independent"}}
},
{"title": {"text": "c. Andel med sjukförmåner", "dx": 17}, "width": 370, "height": 171,
 "layer": [
  {"data": {"name": "d"}, "transform": [{"filter": "datum.p === 'c'"}], "mark": {"type": "line", "strokeWidth": 2},
   "encoding": {
    "x": {"field": "m", "type": "quantitative", "scale": {"domain": [-0.32, 17.29], "nice": false, "zero": false}, "axis": {"orient": "bottom", "title": null, "values": [0,1,2,3,4,5,6,7,8,9,10,11,12,13,14,15,16,17], "labelExpr": "datum.value % 3 === 0 ? ['Juli','Okt','Jan','April','Juli','Okt'][datum.value / 3] : ''", "tickSize": {"condition": {"test": "datum.value % 3 === 0", "value": 7}, "value": 4}, "labelPadding": 5, "labelOverlap": false, "labelFlush": false}},
    "y": {"field": "v", "type": "quantitative", "scale": {"domain": [2.97, 13.17], "nice": false, "zero": false}, "axis": {"title": "Procent", "values": [4,6,8,10,12], "format": ".4~g"}},
    "color": {"field": "k", "type": "nominal", "scale": {"domain": ["2019","2018","2017","2016"], "range": ["#1b3350","#f2c500","#5b9b3c","#e07f2e"]}, "legend": {"title": "Analyskohort:"}},
    "strokeDash": {"field": "k", "type": "nominal", "scale": {"domain": ["2019","2018","2017","2016"], "range": [[1,0],[1,0],[2,3],[6,3,1,3]]}, "legend": {"title": "Analyskohort:"}}
   }},
  {"data": {"values": [{"m": 8}]}, "mark": {"type": "rule", "color": "#666", "strokeDash": [11,4], "strokeWidth": 1},
   "encoding": {"x": {"field": "m", "type": "quantitative", "scale": {"domain": [-0.32, 17.29], "nice": false, "zero": false}, "axis": {"orient": "bottom", "title": null, "values": [0,6], "labelExpr": "datum.value === 0 ? 'Urvalsåret→' : 'Urvalsåret+1→'", "domain": false, "ticks": false, "labelFont": "Liberation Sans", "labelFontStyle": "italic", "labelFontSize": 14, "labelAlign": "left", "labelBaseline": "top", "labelOffset": -12, "offset": 37, "labelPadding": 0, "labelFlush": false, "labelOverlap": false}}}}
 ],
 "resolve": {"scale": {"x": "independent"}}
},
{"title": {"text": "d. Genomsnittliga sjukförmåner", "dx": 32}, "width": 368, "height": 171,
 "layer": [
  {"data": {"name": "d"}, "transform": [{"filter": "datum.p === 'd'"}], "mark": {"type": "line", "strokeWidth": 2},
   "encoding": {
    "x": {"field": "m", "type": "quantitative", "scale": {"domain": [-0.32, 17.29], "nice": false, "zero": false}, "axis": {"orient": "bottom", "title": null, "values": [0,1,2,3,4,5,6,7,8,9,10,11,12,13,14,15,16,17], "labelExpr": "datum.value % 3 === 0 ? ['Juli','Okt','Jan','April','Juli','Okt'][datum.value / 3] : ''", "tickSize": {"condition": {"test": "datum.value % 3 === 0", "value": 7}, "value": 4}, "labelPadding": 5, "labelOverlap": false, "labelFlush": false}},
    "y": {"field": "v", "type": "quantitative", "scale": {"domain": [421, 658], "nice": false, "zero": false}, "axis": {"title": "Belopp (kr)", "values": [450,500,550,600,650], "format": ".4~g"}},
    "color": {"field": "k", "type": "nominal", "scale": {"domain": ["2019","2018","2017","2016"], "range": ["#1b3350","#f2c500","#5b9b3c","#e07f2e"]}, "legend": {"title": "Analyskohort:"}},
    "strokeDash": {"field": "k", "type": "nominal", "scale": {"domain": ["2019","2018","2017","2016"], "range": [[1,0],[1,0],[2,3],[6,3,1,3]]}, "legend": {"title": "Analyskohort:"}}
   }},
  {"data": {"values": [{"m": 8}]}, "mark": {"type": "rule", "color": "#666", "strokeDash": [11,4], "strokeWidth": 1},
   "encoding": {"x": {"field": "m", "type": "quantitative", "scale": {"domain": [-0.32, 17.29], "nice": false, "zero": false}, "axis": {"orient": "bottom", "title": null, "values": [0,6], "labelExpr": "datum.value === 0 ? 'Urvalsåret→' : 'Urvalsåret+1→'", "domain": false, "ticks": false, "labelFont": "Liberation Sans", "labelFontStyle": "italic", "labelFontSize": 14, "labelAlign": "left", "labelBaseline": "top", "labelOffset": -12, "offset": 37, "labelPadding": 0, "labelFlush": false, "labelOverlap": false}}}}
 ],
 "resolve": {"scale": {"x": "independent"}}
},
{"title": {"text": "e. Andel med föräldraförmåner", "dx": 16}, "width": 370, "height": 171,
 "layer": [
  {"data": {"name": "d"}, "transform": [{"filter": "datum.p === 'e'"}], "mark": {"type": "line", "strokeWidth": 2},
   "encoding": {
    "x": {"field": "m", "type": "quantitative", "scale": {"domain": [-0.32, 17.29], "nice": false, "zero": false}, "axis": {"orient": "bottom", "title": null, "values": [0,1,2,3,4,5,6,7,8,9,10,11,12,13,14,15,16,17], "labelExpr": "datum.value % 3 === 0 ? ['Juli','Okt','Jan','April','Juli','Okt'][datum.value / 3] : ''", "tickSize": {"condition": {"test": "datum.value % 3 === 0", "value": 7}, "value": 4}, "labelPadding": 5, "labelOverlap": false, "labelFlush": false}},
    "y": {"field": "v", "type": "quantitative", "scale": {"domain": [5.62, 10.15], "nice": false, "zero": false}, "axis": {"title": "Procent", "values": [6,7,8,9,10], "format": ".4~g"}},
    "color": {"field": "k", "type": "nominal", "scale": {"domain": ["2019","2018","2017","2016"], "range": ["#1b3350","#f2c500","#5b9b3c","#e07f2e"]}, "legend": {"title": "Analyskohort:"}},
    "strokeDash": {"field": "k", "type": "nominal", "scale": {"domain": ["2019","2018","2017","2016"], "range": [[1,0],[1,0],[2,3],[6,3,1,3]]}, "legend": {"title": "Analyskohort:"}}
   }},
  {"data": {"values": [{"m": 8}]}, "mark": {"type": "rule", "color": "#666", "strokeDash": [11,4], "strokeWidth": 1},
   "encoding": {"x": {"field": "m", "type": "quantitative", "scale": {"domain": [-0.32, 17.29], "nice": false, "zero": false}, "axis": {"orient": "bottom", "title": null, "values": [0,6], "labelExpr": "datum.value === 0 ? 'Urvalsåret→' : 'Urvalsåret+1→'", "domain": false, "ticks": false, "labelFont": "Liberation Sans", "labelFontStyle": "italic", "labelFontSize": 14, "labelAlign": "left", "labelBaseline": "top", "labelOffset": -12, "offset": 37, "labelPadding": 0, "labelFlush": false, "labelOverlap": false}}}}
 ],
 "resolve": {"scale": {"x": "independent"}}
},
{"title": {"text": "f. Genomsnittliga föräldraförmåner", "dx": 31}, "width": 368, "height": 171,
 "layer": [
  {"data": {"name": "d"}, "transform": [{"filter": "datum.p === 'f'"}], "mark": {"type": "line", "strokeWidth": 2},
   "encoding": {
    "x": {"field": "m", "type": "quantitative", "scale": {"domain": [-0.32, 17.29], "nice": false, "zero": false}, "axis": {"orient": "bottom", "title": null, "values": [0,1,2,3,4,5,6,7,8,9,10,11,12,13,14,15,16,17], "labelExpr": "datum.value % 3 === 0 ? ['Juli','Okt','Jan','April','Juli','Okt'][datum.value / 3] : ''", "tickSize": {"condition": {"test": "datum.value % 3 === 0", "value": 7}, "value": 4}, "labelPadding": 5, "labelOverlap": false, "labelFlush": false}},
    "y": {"field": "v", "type": "quantitative", "scale": {"domain": [384, 816], "nice": false, "zero": false}, "axis": {"title": "Belopp (kr)", "values": [400,500,600,700,800], "format": ".4~g"}},
    "color": {"field": "k", "type": "nominal", "scale": {"domain": ["2019","2018","2017","2016"], "range": ["#1b3350","#f2c500","#5b9b3c","#e07f2e"]}, "legend": {"title": "Analyskohort:"}},
    "strokeDash": {"field": "k", "type": "nominal", "scale": {"domain": ["2019","2018","2017","2016"], "range": [[1,0],[1,0],[2,3],[6,3,1,3]]}, "legend": {"title": "Analyskohort:"}}
   }},
  {"data": {"values": [{"m": 8}]}, "mark": {"type": "rule", "color": "#666", "strokeDash": [11,4], "strokeWidth": 1},
   "encoding": {"x": {"field": "m", "type": "quantitative", "scale": {"domain": [-0.32, 17.29], "nice": false, "zero": false}, "axis": {"orient": "bottom", "title": null, "values": [0,6], "labelExpr": "datum.value === 0 ? 'Urvalsåret→' : 'Urvalsåret+1→'", "domain": false, "ticks": false, "labelFont": "Liberation Sans", "labelFontStyle": "italic", "labelFontSize": 14, "labelAlign": "left", "labelBaseline": "top", "labelOffset": -12, "offset": 37, "labelPadding": 0, "labelFlush": false, "labelOverlap": false}}}}
 ],
 "resolve": {"scale": {"x": "independent"}}
},
{"title": {"text": "g. Andel med bastrygghetsförmåner", "dx": 21}, "width": 368, "height": 172,
 "layer": [
  {"data": {"name": "d"}, "transform": [{"filter": "datum.p === 'g'"}], "mark": {"type": "line", "strokeWidth": 2},
   "encoding": {
    "x": {"field": "m", "type": "quantitative", "scale": {"domain": [-0.32, 17.29], "nice": false, "zero": false}, "axis": {"orient": "bottom", "title": null, "values": [0,1,2,3,4,5,6,7,8,9,10,11,12,13,14,15,16,17], "labelExpr": "datum.value % 3 === 0 ? ['Juli','Okt','Jan','April','Juli','Okt'][datum.value / 3] : ''", "tickSize": {"condition": {"test": "datum.value % 3 === 0", "value": 7}, "value": 4}, "labelPadding": 5, "labelOverlap": false, "labelFlush": false}},
    "y": {"field": "v", "type": "quantitative", "scale": {"domain": [4.328, 5.235], "nice": false, "zero": false}, "axis": {"title": "Procent", "values": [4.4,4.6,4.8,5,5.2], "format": ".4~g"}},
    "color": {"field": "k", "type": "nominal", "scale": {"domain": ["2019","2018","2017","2016"], "range": ["#1b3350","#f2c500","#5b9b3c","#e07f2e"]}, "legend": {"title": "Analyskohort:"}},
    "strokeDash": {"field": "k", "type": "nominal", "scale": {"domain": ["2019","2018","2017","2016"], "range": [[1,0],[1,0],[2,3],[6,3,1,3]]}, "legend": {"title": "Analyskohort:"}}
   }},
  {"data": {"values": [{"m": 8}]}, "mark": {"type": "rule", "color": "#666", "strokeDash": [11,4], "strokeWidth": 1},
   "encoding": {"x": {"field": "m", "type": "quantitative", "scale": {"domain": [-0.32, 17.29], "nice": false, "zero": false}, "axis": {"orient": "bottom", "title": null, "values": [0,6], "labelExpr": "datum.value === 0 ? 'Urvalsåret→' : 'Urvalsåret+1→'", "domain": false, "ticks": false, "labelFont": "Liberation Sans", "labelFontStyle": "italic", "labelFontSize": 14, "labelAlign": "left", "labelBaseline": "top", "labelOffset": -12, "offset": 37, "labelPadding": 0, "labelFlush": false, "labelOverlap": false}}}}
 ],
 "resolve": {"scale": {"x": "independent"}}
},
{"title": {"text": "h. Genomsnittliga bastrygghetsförmåner", "dx": 30}, "width": 370, "height": 172,
 "layer": [
  {"data": {"name": "d"}, "transform": [{"filter": "datum.p === 'h'"}], "mark": {"type": "line", "strokeWidth": 2},
   "encoding": {
    "x": {"field": "m", "type": "quantitative", "scale": {"domain": [-0.32, 17.29], "nice": false, "zero": false}, "axis": {"orient": "bottom", "title": null, "values": [0,1,2,3,4,5,6,7,8,9,10,11,12,13,14,15,16,17], "labelExpr": "datum.value % 3 === 0 ? ['Juli','Okt','Jan','April','Juli','Okt'][datum.value / 3] : ''", "tickSize": {"condition": {"test": "datum.value % 3 === 0", "value": 7}, "value": 4}, "labelPadding": 5, "labelOverlap": false, "labelFlush": false}},
    "y": {"field": "v", "type": "quantitative", "scale": {"domain": [176.8, 263.5], "nice": false, "zero": false}, "axis": {"title": "Belopp (kr)", "values": [180,200,220,240,260], "format": ".4~g"}},
    "color": {"field": "k", "type": "nominal", "scale": {"domain": ["2019","2018","2017","2016"], "range": ["#1b3350","#f2c500","#5b9b3c","#e07f2e"]}, "legend": {"title": "Analyskohort:"}},
    "strokeDash": {"field": "k", "type": "nominal", "scale": {"domain": ["2019","2018","2017","2016"], "range": [[1,0],[1,0],[2,3],[6,3,1,3]]}, "legend": {"title": "Analyskohort:"}}
   }},
  {"data": {"values": [{"m": 8}]}, "mark": {"type": "rule", "color": "#666", "strokeDash": [11,4], "strokeWidth": 1},
   "encoding": {"x": {"field": "m", "type": "quantitative", "scale": {"domain": [-0.32, 17.29], "nice": false, "zero": false}, "axis": {"orient": "bottom", "title": null, "values": [0,6], "labelExpr": "datum.value === 0 ? 'Urvalsåret→' : 'Urvalsåret+1→'", "domain": false, "ticks": false, "labelFont": "Liberation Sans", "labelFontStyle": "italic", "labelFontSize": 14, "labelAlign": "left", "labelBaseline": "top", "labelOffset": -12, "offset": 37, "labelPadding": 0, "labelFlush": false, "labelOverlap": false}}}}
 ],
 "resolve": {"scale": {"x": "independent"}}
}
]
}
